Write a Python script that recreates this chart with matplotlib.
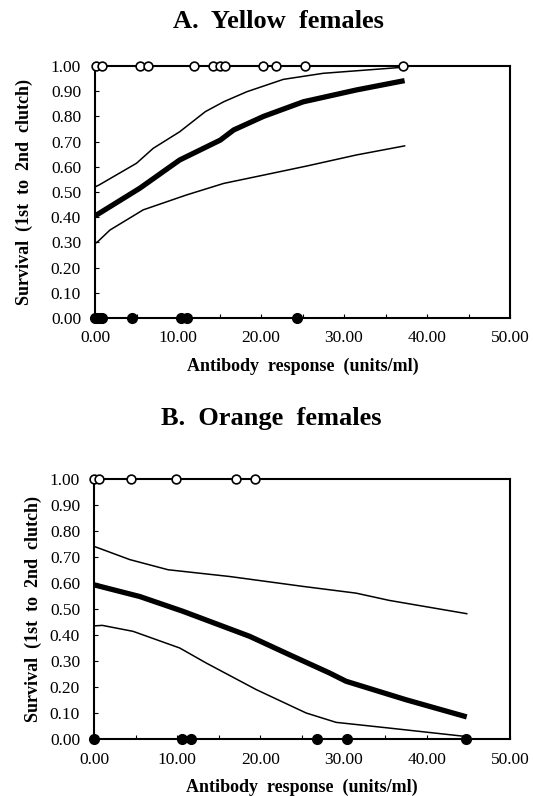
"""Survival (1st to 2nd clutch) vs antibody response, yellow and orange females."""

import matplotlib

matplotlib.use("Agg")
import matplotlib.pyplot as plt
from matplotlib.ticker import FormatStrFormatter, MultipleLocator

plt.rcParams["font.family"] = ["Liberation Serif", "DejaVu Serif"]

# --- panel A: yellow females -------------------------------------------
yellow_fit_x = [0.0, 5.4, 10.2, 15.1, 16.7, 20.3, 25.1, 31.5, 37.3]
yellow_fit_y = [0.405, 0.515, 0.627, 0.706, 0.746, 0.800, 0.858, 0.905, 0.942]
yellow_hi_x = [0.0, 0.5, 5.0, 7.0, 10.2, 13.3, 15.5, 18.3, 22.7, 27.5, 37.1]
yellow_hi_y = [0.520, 0.528, 0.614, 0.673, 0.739, 0.819, 0.858, 0.898, 0.947, 0.971, 0.995]
yellow_lo_x = [0.0, 0.4, 1.8, 5.8, 11.0, 15.5, 20.3, 25.5, 31.5, 37.3]
yellow_lo_y = [0.295, 0.305, 0.349, 0.429, 0.488, 0.534, 0.567, 0.603, 0.647, 0.683]
yellow_survived = [0.1, 0.9, 5.4, 6.4, 11.9, 14.2, 15.0, 15.7, 20.3, 21.8, 25.3, 37.1]
yellow_died = [0.0, 0.3, 0.6, 0.8, 4.5, 10.4, 11.1, 24.3]

# --- panel B: orange females -------------------------------------------
orange_fit_x = [0.0, 5.5, 10.7, 18.7, 23.5, 28.3, 30.3, 37.5, 44.8]
orange_fit_y = [0.593, 0.548, 0.491, 0.395, 0.324, 0.254, 0.222, 0.151, 0.085]
orange_hi_x = [0.0, 4.3, 8.9, 16.3, 25.1, 31.5, 35.5, 44.8]
orange_hi_y = [0.741, 0.690, 0.651, 0.625, 0.587, 0.561, 0.533, 0.482]
orange_lo_x = [0.0, 1.0, 4.7, 10.3, 13.5, 19.5, 25.5, 29.1, 35.5, 44.6]
orange_lo_y = [0.435, 0.437, 0.414, 0.350, 0.292, 0.190, 0.100, 0.064, 0.042, 0.010]
orange_survived = [0.0, 0.6, 4.4, 9.9, 17.1, 19.4]
orange_died = [0.0, 10.6, 11.7, 26.8, 30.4, 44.7]

PANELS = [
    ("A.  Yellow  females", yellow_fit_x, yellow_fit_y, yellow_hi_x, yellow_hi_y,
     yellow_lo_x, yellow_lo_y, yellow_survived, yellow_died),
    ("B.  Orange  females", orange_fit_x, orange_fit_y, orange_hi_x, orange_hi_y,
     orange_lo_x, orange_lo_y, orange_survived, orange_died),
]
W, H = 533, 796
AX_BOXES = [(95, 66, 510, 318), (94, 479, 510, 739)]
TITLE_POS = [(278, 21), (271, 419)]
YLABEL_X = [33, 42]


def main():
    fig = plt.figure(figsize=(W / 100, H / 100), dpi=100)
    for i, (title, fx, fy, hx, hy, lx, ly, surv, died) in enumerate(PANELS):
        l, t, r, b = AX_BOXES[i]
        ax = fig.add_axes([l / W, 1 - b / H, (r - l) / W, (b - t) / H])
        ax.plot(hx, hy, color="black", lw=1.1, solid_joinstyle="round")
        ax.plot(lx, ly, color="black", lw=1.1, solid_joinstyle="round")
        ax.plot(fx, fy, color="black", lw=3.8, solid_capstyle="butt")
        ax.plot(surv, [1.0] * len(surv), "o", ms=6.3, mfc="white", mec="black",
                mew=1.2, ls="none", clip_on=False, zorder=5)
        ax.plot(died, [0.0] * len(died), "o", ms=7, mfc="black", mec="black",
                ls="none", clip_on=False, zorder=5)

        ax.set_xlim(0, 50)
        ax.set_ylim(0, 1)
        ax.xaxis.set_major_locator(MultipleLocator(10))
        ax.xaxis.set_minor_locator(MultipleLocator(5))
        ax.yaxis.set_major_locator(MultipleLocator(0.1))
        ax.xaxis.set_major_formatter(FormatStrFormatter("%.2f"))
        ax.yaxis.set_major_formatter(FormatStrFormatter("%.2f"))
        ax.tick_params(which="both", direction="in", top=False, right=False,
                       length=3, width=0.8, labelsize=12.5)
        ax.tick_params(axis="x", pad=9)
        ax.tick_params(axis="y", pad=10)
        for sp in ax.spines.values():
            sp.set_linewidth(1.5)

        ax.set_xlabel("Antibody  response  (units/ml)", fontsize=13,
                      fontweight="bold", labelpad=8)
        ax.set_ylabel("Survival  (1st  to  2nd  clutch)", fontsize=13,
                      fontweight="bold")
        ax.yaxis.set_label_coords((YLABEL_X[i] - l) / (r - l), 0.5)

        tx, ty = TITLE_POS[i]
        fig.text(tx / W, 1 - ty / H, title, ha="center", va="center",
                 fontsize=19, fontweight="bold")

    fig.savefig("out.png", dpi=100)
    plt.close(fig)


if __name__ == "__main__":
    main()
